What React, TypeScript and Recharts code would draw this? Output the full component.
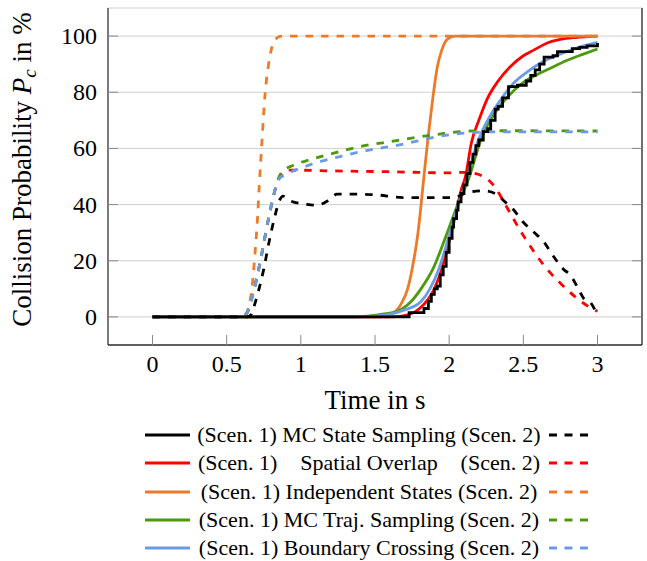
import React from 'react';
import { LineChart, Line, XAxis, YAxis, CartesianGrid, Label } from 'recharts';

const X_TICKS = [0, 0.5, 1, 1.5, 2, 2.5, 3];
const Y_TICKS = [0, 20, 40, 60, 80, 100];

// [time in s, Pc in %]
const mcStateScen1 = [
  [0, 0], [1.72, 0], [1.73, 1.5], [1.82, 1.5], [1.83, 3], [1.86, 5.5], [1.88, 8], [1.9, 10],
  [1.92, 11], [1.94, 15], [1.96, 18], [1.98, 23], [2.0, 28], [2.02, 32], [2.03, 35], [2.05, 38],
  [2.06, 41], [2.08, 44], [2.1, 47], [2.12, 51], [2.14, 55], [2.16, 58], [2.18, 61], [2.2, 63],
  [2.23, 66], [2.26, 67], [2.28, 70], [2.31, 74], [2.33, 75], [2.36, 78], [2.4, 82], [2.46, 82.5],
  [2.52, 84], [2.55, 86], [2.58, 88], [2.61, 90], [2.64, 92.5], [2.7, 93], [2.73, 94.5],
  [2.78, 94.5], [2.83, 95.5], [2.88, 96], [2.93, 96.5], [3.0, 97.5],
];
const mcStateScen2 = [
  [0, 0], [0.64, 0], [0.66, 0.5], [0.68, 3], [0.706, 7.6], [0.75, 17], [0.785, 26.5], [0.82, 34.8],
  [0.86, 41.9], [0.88, 43], [0.93, 41.3], [1.04, 40.1], [1.11, 39.8], [1.18, 41.3], [1.245, 43.7],
  [1.36, 43.7], [1.5, 43.5], [1.69, 42.5], [2.03, 42.5], [2.12, 44.3], [2.23, 44.9], [2.32, 43.7],
  [2.37, 41.3], [2.43, 38.4], [2.5, 33.7], [2.57, 30.2], [2.64, 26.6], [2.7, 21.8], [2.77, 17],
  [2.82, 14.7], [2.86, 11.1], [2.91, 6.4], [2.95, 5.3], [3.0, 0.5],
];
const overlapScen1 = [
  [0, 0], [1.6, 0], [1.7, 0.5], [1.8, 3], [1.9, 10], [1.95, 17], [2.0, 27], [2.05, 38], [2.08, 45],
  [2.11, 50], [2.15, 62], [2.2, 70], [2.26, 78], [2.33, 84], [2.41, 89], [2.5, 93], [2.57, 95],
  [2.65, 97.3], [2.75, 98.8], [2.85, 99.5], [3.0, 100],
];
const overlapScen2 = [
  [0, 0], [0.6, 0], [0.64, 1.7], [0.68, 8.8], [0.73, 20.6], [0.76, 29], [0.79, 37], [0.82, 44],
  [0.85, 49], [0.88, 51.5], [0.92, 52.3], [1.2, 52], [1.6, 51.7], [2.0, 51.3], [2.1, 51.5],
  [2.18, 51], [2.23, 50], [2.28, 48], [2.33, 44.5], [2.37, 40.8], [2.5, 29], [2.66, 17],
  [2.75, 12], [2.84, 7.6], [2.93, 4], [3.0, 2],
];
const independentScen1 = [
  [0, 0], [1.5, 0], [1.58, 0.5], [1.64, 2], [1.68, 5], [1.72, 10], [1.75, 17], [1.79, 30],
  [1.83, 50], [1.86, 65], [1.89, 78], [1.92, 89], [1.95, 95], [1.99, 99], [2.04, 100], [3.0, 100],
];
const independentScen2 = [
  [0, 0], [0.6, 0], [0.63, 1], [0.65, 4], [0.67, 10], [0.69, 22], [0.71, 37], [0.72, 47],
  [0.735, 60], [0.76, 80], [0.78, 89], [0.8, 95], [0.83, 99], [0.87, 100], [3.0, 100],
];
const trajScen1 = [
  [0, 0], [1.3, 0], [1.45, 0.3], [1.55, 1], [1.65, 2], [1.74, 5.3], [1.81, 10], [1.89, 17],
  [1.98, 29], [2.05, 39], [2.13, 49], [2.22, 64], [2.3, 72], [2.38, 77.5], [2.5, 83.5],
  [2.6, 86.5], [2.7, 89], [2.8, 91.5], [2.9, 93.5], [3.0, 95.4],
];
const trajScen2 = [
  [0, 0], [0.6, 0], [0.64, 1.7], [0.68, 8.8], [0.73, 20.6], [0.76, 29], [0.79, 37], [0.82, 44],
  [0.85, 49.5], [0.88, 52], [0.95, 54], [1.0, 55], [1.11, 56.7], [1.27, 59], [1.42, 60.9],
  [1.55, 62], [1.69, 63.2], [1.92, 65], [2.14, 66.2], [2.3, 66.3], [3.0, 66.2],
];
const boundaryScen1 = [
  [0, 0], [1.4, 0], [1.5, 0.3], [1.6, 1], [1.7, 2.5], [1.81, 5.5], [1.87, 10], [1.93, 17],
  [2.0, 29], [2.05, 38], [2.12, 49], [2.19, 62], [2.27, 71], [2.35, 77.5], [2.43, 83], [2.52, 87],
  [2.62, 90.5], [2.72, 93], [2.82, 95], [2.91, 96.6], [3.0, 97.8],
];
const boundaryScen2 = [
  [0, 0], [0.6, 0], [0.64, 1.7], [0.68, 8.8], [0.73, 20.6], [0.76, 29], [0.79, 37], [0.82, 44],
  [0.85, 49], [0.91, 51], [1.0, 53], [1.11, 55], [1.27, 57.2], [1.45, 59.3], [1.69, 61.5],
  [1.92, 64.2], [2.14, 65.6], [2.3, 65.9], [3.0, 65.9],
];

const METHODS = [
  { name: 'MC State Sampling', color: '#000000', scen1: mcStateScen1, scen2: mcStateScen2, step: true },
  { name: 'Spatial Overlap', color: '#ff0000', scen1: overlapScen1, scen2: overlapScen2, spread: true },
  { name: 'Independent States', color: '#ec7a28', scen1: independentScen1, scen2: independentScen2 },
  { name: 'MC Traj. Sampling', color: '#4c9a0c', scen1: trajScen1, scen2: trajScen2 },
  { name: 'Boundary Crossing', color: '#6b9be6', scen1: boundaryScen1, scen2: boundaryScen2 },
];
const DRAW_ORDER = [1, 2, 3, 4, 0];

const FONT = 'Liberation Serif, DejaVu Serif, serif';
const DASH = '7.5 8';
const TICK_COLOR = '#888';

const toPts = (arr: number[][]) => arr.map(([t, p]) => ({ t, p }));

const fmt = (v: number) => String(v);

const BottomTick = ({ x, y, payload }: any) => (
  <g>
    <line x1={x} x2={x} y1={y} y2={y - 10} stroke={TICK_COLOR} />
    <text x={x} y={y + 27} textAnchor="middle" fontSize={24} fontFamily={FONT} fill="#000">
      {fmt(payload.value)}
    </text>
  </g>
);
const TopTick = ({ x, y }: any) => <line x1={x} x2={x} y1={y} y2={y + 10} stroke={TICK_COLOR} />;
const LeftTick = ({ x, y, payload }: any) => (
  <g>
    <line x1={x} x2={x + 10} y1={y} y2={y} stroke={TICK_COLOR} />
    <text x={x - 11} y={y + 8} textAnchor="end" fontSize={24} fontFamily={FONT} fill="#000">
      {fmt(payload.value)}
    </text>
  </g>
);
const RightTick = ({ x, y }: any) => <line x1={x} x2={x - 10} y1={y} y2={y} stroke={TICK_COLOR} />;

const YLabel = ({ viewBox }: any) => {
  const cx = 31;
  const cy = viewBox.y + viewBox.height / 2 - 7;
  return (
    <text
      x={cx}
      y={cy}
      transform={`rotate(-90, ${cx}, ${cy})`}
      textAnchor="middle"
      fontSize={27}
      fontFamily={FONT}
      fill="#000"
    >
      <tspan>Collision Probability </tspan>
      <tspan fontStyle="italic">P</tspan>
      <tspan fontStyle="italic" fontSize={19} dy={5}>c</tspan>
      <tspan dy={-5}> in %</tspan>
    </text>
  );
};

const XLabel = ({ viewBox }: any) => (
  <text
    x={viewBox.x + viewBox.width / 2}
    y={409}
    textAnchor="middle"
    fontSize={27}
    fontFamily={FONT}
    fill="#000"
  >
    Time in s
  </text>
);

const LegendBlock = () => (
  <div style={{ position: 'absolute', left: 0, top: 421, width: 647, fontFamily: FONT, fontSize: 22 }}>
    {METHODS.map((m) => (
      <div key={m.name} style={{ position: 'relative', height: 28.3 }}>
        <svg width={45} height={28} style={{ position: 'absolute', left: 145, top: 0 }}>
          <line x1={0} x2={45} y1={14} y2={14} stroke={m.color} strokeWidth={2.8} />
        </svg>
        <div
          style={{
            position: 'absolute',
            left: 198,
            width: 342,
            top: 0,
            height: 28,
            lineHeight: '28px',
            display: 'flex',
            justifyContent: m.spread ? 'space-between' : 'center',
            columnGap: '0.25em',
            whiteSpace: 'nowrap',
          }}
        >
          <span>(Scen. 1)</span>
          <span>{m.name}</span>
          <span>(Scen. 2)</span>
        </div>
        <svg width={40} height={28} style={{ position: 'absolute', left: 549, top: 0 }}>
          <line x1={0} x2={40} y1={14} y2={14} stroke={m.color} strokeWidth={2.8} strokeDasharray="8 7.5" />
        </svg>
      </div>
    ))}
  </div>
);

export default function App() {
  return (
    <div style={{ position: 'absolute', left: 0, top: 0, width: 647, height: 561, background: '#fff' }}>
      <LineChart width={647} height={561} margin={{ top: 8, right: 4, bottom: 156, left: 0 }}>
        <CartesianGrid vertical={false} stroke="#cfcfcf" />
        <XAxis
          dataKey="t"
          type="number"
          domain={[-0.3, 3.3]}
          ticks={X_TICKS}
          allowDataOverflow
          height={60}
          tickSize={0}
          tickMargin={0}
          tick={<BottomTick />}
          axisLine={{ stroke: '#333', strokeWidth: 1.3 }}
          tickLine={false}
        >
          <Label content={<XLabel />} />
        </XAxis>
        <XAxis
          xAxisId="top"
          orientation="top"
          type="number"
          domain={[-0.3, 3.3]}
          ticks={X_TICKS}
          allowDataOverflow
          height={0}
          tickSize={0}
          tickMargin={0}
          tick={<TopTick />}
          axisLine={{ stroke: '#222', strokeWidth: 1.3 }}
          tickLine={false}
        />
        <YAxis
          type="number"
          domain={[-10, 110]}
          ticks={Y_TICKS}
          allowDataOverflow
          width={108}
          tickSize={0}
          tickMargin={0}
          tick={<LeftTick />}
          axisLine={{ stroke: '#333', strokeWidth: 1.3 }}
          tickLine={false}
        >
          <Label content={<YLabel />} />
        </YAxis>
        <YAxis
          yAxisId="right"
          orientation="right"
          type="number"
          domain={[-10, 110]}
          ticks={Y_TICKS}
          allowDataOverflow
          width={1}
          tickSize={0}
          tickMargin={0}
          tick={<RightTick />}
          axisLine={{ stroke: '#222', strokeWidth: 1.3 }}
          tickLine={false}
        />
        {DRAW_ORDER.map((i) => {
          const m = METHODS[i];
          return [
            <Line
              key={m.name + '-s1'}
              data={toPts(m.scen1)}
              dataKey="p"
              type={m.step ? 'stepAfter' : 'monotone'}
              stroke={m.color}
              strokeWidth={2.8}
              dot={false}
              activeDot={false}
              isAnimationActive={false}
            />,
            <Line
              key={m.name + '-s2'}
              data={toPts(m.scen2)}
              dataKey="p"
              type="monotone"
              stroke={m.color}
              strokeWidth={2.8}
              strokeDasharray={DASH}
              dot={false}
              activeDot={false}
              isAnimationActive={false}
            />,
          ];
        })}
      </LineChart>
      <LegendBlock />
    </div>
  );
}
